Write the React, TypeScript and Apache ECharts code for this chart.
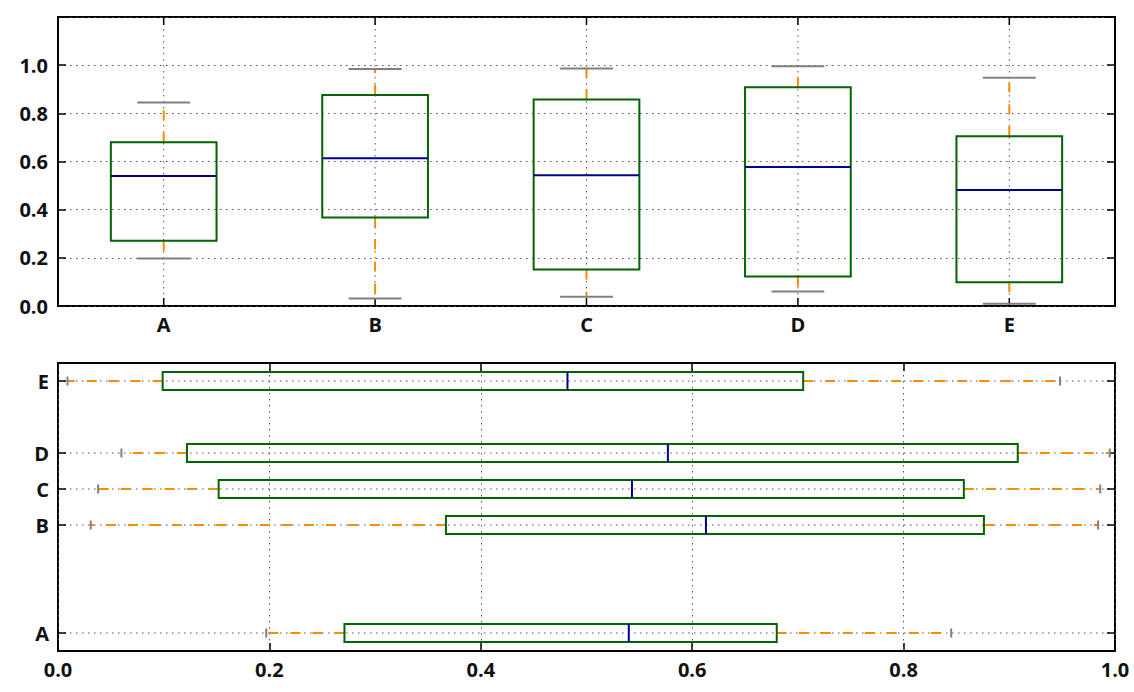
import React, { useEffect, useRef } from 'react';
import * as echarts from 'echarts';

// ---- data ----
const categories = ['A', 'B', 'C', 'D', 'E'];
const verticalPositions = [1, 2, 3, 4, 5];
const horizontalPositions = [1, 4, 5, 6, 8];
const whiskerLow = [0.197, 0.031, 0.038, 0.060, 0.009];
const quartile1 = [0.271, 0.367, 0.152, 0.122, 0.099];
const medians = [0.540, 0.613, 0.543, 0.577, 0.482];
const quartile3 = [0.680, 0.876, 0.857, 0.908, 0.705];
const whiskerHigh = [0.845, 0.984, 0.986, 0.995, 0.948];

const BOX_COLOR = '#006400';
const WHISKER_COLOR = '#FF8C00';
const MEDIAN_COLOR = '#00008B';
const CAP_COLOR = '#808080';
const GRID_DOT = '#555';
const TEXT = '#111';
const FONT = '"Open Sans", "DejaVu Sans", sans-serif';
const TICK_LEN = 8;

function nameAt(positions: number[], v: number): string {
  for (let i = 0; i < positions.length; i++) {
    if (Math.abs(positions[i] - v) < 1e-6) return categories[i];
  }
  return '';
}

function makeRender(horizontal: boolean) {
  return (params: any, api: any) => {
    const pos = api.value(0);
    const lo = api.value(1);
    const q1 = api.value(2);
    const med = api.value(3);
    const q3 = api.value(4);
    const hi = api.value(5);
    const cs = params.coordSys;
    const pt = (v: number, off = 0) =>
      horizontal ? api.coord([v, pos + off]) : api.coord([pos + off, v]);
    const center = pt(med);
    const children: any[] = [];
    const gridStyle = { stroke: GRID_DOT, lineWidth: 1, lineDash: [1.5, 4.5] };
    const tickStyle = { stroke: '#000', lineWidth: 1.5 };
    if (horizontal) {
      const py = center[1];
      children.push({ type: 'line', shape: { x1: cs.x, y1: py, x2: cs.x + cs.width, y2: py }, style: gridStyle });
      children.push({ type: 'line', shape: { x1: cs.x, y1: py, x2: cs.x + TICK_LEN, y2: py }, style: tickStyle });
      children.push({ type: 'line', shape: { x1: cs.x + cs.width, y1: py, x2: cs.x + cs.width - TICK_LEN, y2: py }, style: tickStyle });
    } else {
      const px = center[0];
      children.push({ type: 'line', shape: { x1: px, y1: cs.y, x2: px, y2: cs.y + cs.height }, style: gridStyle });
      children.push({ type: 'line', shape: { x1: px, y1: cs.y + cs.height, x2: px, y2: cs.y + cs.height - TICK_LEN }, style: tickStyle });
      children.push({ type: 'line', shape: { x1: px, y1: cs.y, x2: px, y2: cs.y + TICK_LEN }, style: tickStyle });
    }
    const whiskerStyle = { stroke: WHISKER_COLOR, lineWidth: 2, lineDash: [10, 12] };
    const a1 = pt(q1), a2 = pt(lo);
    children.push({ type: 'line', shape: { x1: a1[0], y1: a1[1], x2: a2[0], y2: a2[1] }, style: whiskerStyle });
    const b1 = pt(q3), b2 = pt(hi);
    children.push({ type: 'line', shape: { x1: b1[0], y1: b1[1], x2: b2[0], y2: b2[1] }, style: whiskerStyle });
    const capStyle = { stroke: CAP_COLOR, lineWidth: 2 };
    [lo, hi].forEach((v) => {
      const c1 = pt(v, -0.125), c2 = pt(v, 0.125);
      children.push({ type: 'line', shape: { x1: c1[0], y1: c1[1], x2: c2[0], y2: c2[1] }, style: capStyle });
    });
    const r1 = pt(q1, -0.25), r2 = pt(q3, 0.25);
    children.push({
      type: 'rect',
      shape: {
        x: Math.min(r1[0], r2[0]),
        y: Math.min(r1[1], r2[1]),
        width: Math.abs(r2[0] - r1[0]),
        height: Math.abs(r2[1] - r1[1]),
      },
      style: { fill: 'none', stroke: BOX_COLOR, lineWidth: 2 },
    });
    const m1 = pt(med, -0.25), m2 = pt(med, 0.25);
    children.push({ type: 'line', shape: { x1: m1[0], y1: m1[1], x2: m2[0], y2: m2[1] }, style: { stroke: MEDIAN_COLOR, lineWidth: 2 } });
    return { type: 'group', children };
  };
}

const labelStyle = { color: TEXT, fontFamily: FONT, fontWeight: 'bold' as const, fontSize: 20 };

export default function App() {
  const ref = useRef<HTMLDivElement>(null);
  useEffect(() => {
    if (!ref.current) return;
    const chart = echarts.init(ref.current, undefined, { renderer: 'svg' });
    const verticalData = categories.map((_, i) => [
      verticalPositions[i], whiskerLow[i], quartile1[i], medians[i], quartile3[i], whiskerHigh[i],
    ]);
    const horizontalData = categories.map((_, i) => [
      horizontalPositions[i], whiskerLow[i], quartile1[i], medians[i], quartile3[i], whiskerHigh[i],
    ]);
    const gridCommon = { show: true, borderColor: '#000', borderWidth: 2, backgroundColor: 'transparent' };
    const option: any = {
      animation: false,
      backgroundColor: '#fff',
      grid: [
        { ...gridCommon, left: 58, top: 17, width: 1057, height: 289 },
        { ...gridCommon, left: 58, top: 363, width: 1057, height: 288 },
      ],
      xAxis: [
        {
          type: 'value', gridIndex: 0, min: 0.5, max: 5.5, interval: 0.5,
          axisLine: { show: false }, axisTick: { show: false }, splitLine: { show: false },
          axisLabel: { ...labelStyle, margin: 8, formatter: (v: number) => nameAt(verticalPositions, v) },
        },
        {
          type: 'value', gridIndex: 1, min: 0, max: 1, interval: 0.2, position: 'bottom',
          axisLine: { show: false },
          axisTick: { show: true, inside: true, length: TICK_LEN, lineStyle: { color: '#000', width: 1.5 } },
          splitLine: { show: true, lineStyle: { color: GRID_DOT, width: 1, type: [1.5, 4.5] } },
          axisLabel: { ...labelStyle, margin: 8, formatter: (v: number) => v.toFixed(1) },
        },
        {
          type: 'value', gridIndex: 1, min: 0, max: 1, interval: 0.2, position: 'top',
          axisLine: { show: false },
          axisTick: { show: true, inside: true, length: TICK_LEN, lineStyle: { color: '#000', width: 1.5 } },
          splitLine: { show: false }, axisLabel: { show: false },
        },
      ],
      yAxis: [
        {
          type: 'value', gridIndex: 0, min: 0, max: 1.2, interval: 0.2, position: 'left',
          axisLine: { show: false },
          axisTick: { show: true, inside: true, length: TICK_LEN, lineStyle: { color: '#000', width: 1.5 } },
          splitLine: { show: true, lineStyle: { color: GRID_DOT, width: 1, type: [1.5, 4.5] } },
          axisLabel: { ...labelStyle, margin: 10, formatter: (v: number) => (v > 1.0001 ? '' : v.toFixed(1)) },
        },
        {
          type: 'value', gridIndex: 0, min: 0, max: 1.2, interval: 0.2, position: 'right',
          axisLine: { show: false },
          axisTick: { show: true, inside: true, length: TICK_LEN, lineStyle: { color: '#000', width: 1.5 } },
          splitLine: { show: false }, axisLabel: { show: false },
        },
        {
          type: 'value', gridIndex: 1, min: 0.5, max: 8.5, interval: 0.5, position: 'left',
          axisLine: { show: false }, axisTick: { show: false }, splitLine: { show: false },
          axisLabel: { ...labelStyle, margin: 9, formatter: (v: number) => nameAt(horizontalPositions, v) },
        },
      ],
      series: [
        {
          type: 'custom', xAxisIndex: 0, yAxisIndex: 0, silent: true,
          renderItem: makeRender(false),
          encode: { x: 0, y: [1, 2, 3, 4, 5] },
          data: verticalData,
        },
        {
          type: 'custom', xAxisIndex: 1, yAxisIndex: 2, silent: true,
          renderItem: makeRender(true),
          encode: { y: 0, x: [1, 2, 3, 4, 5] },
          data: horizontalData,
        },
      ],
    };
    chart.setOption(option);
    return () => chart.dispose();
  }, []);
  return <div ref={ref} style={{ position: 'absolute', left: 0, top: 0, width: 1134, height: 692 }} />;
}
